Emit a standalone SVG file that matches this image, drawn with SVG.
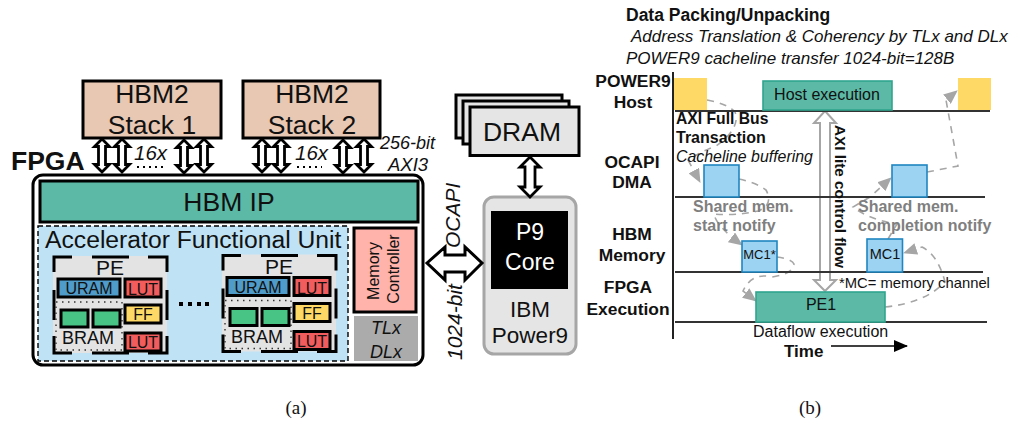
<svg xmlns="http://www.w3.org/2000/svg" width="1011" height="423" viewBox="0 0 1011 423">
<style>
text{font-family:"Liberation Sans",Arial,sans-serif;fill:#111}
.c{text-anchor:middle}
.b{font-weight:bold}
.i{font-style:italic}
.k{stroke:#000;stroke-width:3}
.hbm{fill:#e9c8b3}
.lg{font-size:26.500px}
.arr{fill:#fff;stroke:#000;stroke-width:2.800;stroke-linejoin:miter}
.pk{fill:none;stroke:#000;stroke-width:3}
.t16{font-size:16px}
.t17{font-size:17.400px}
.s17{font-size:17px}
.gray{fill:#7f7f7f;font-weight:bold;font-size:16px}
.dash{fill:none;stroke:#a6a6a6;stroke-width:1.600;stroke-dasharray:7 6;marker-end:url(#gh)}
.ax{stroke:#333;stroke-width:2;fill:none}
.blue{fill:#9cd2f2;stroke:#1f86c0;stroke-width:1.600}
.teal{fill:#5bb9a6;stroke:#2fa58f;stroke-width:1.600}
</style>
<defs>
<marker id="gh" viewBox="0 0 14 12" refX="13" refY="6" markerWidth="14" markerHeight="12" markerUnits="userSpaceOnUse" orient="auto"><path d="M0 0L14 6L0 12Z" fill="#a6a6a6"/></marker>
<marker id="kh" viewBox="0 0 14 12" refX="13" refY="6" markerWidth="14" markerHeight="12" markerUnits="userSpaceOnUse" orient="auto"><path d="M0 0L14 6L0 12Z" fill="#000"/></marker>
<path id="da" class="arr" d="M0 1L7.500 8.500H3.500V26.500H7.500L0 34L-7.500 26.500H-3.500V8.500H-7.500Z"/>
<g id="pe">
<rect x="53" y="256" width="114" height="97" fill="#e3e3e3"/>
<path class="pk" d="M54 272V257H72M92 257H129M148 257H167V272M54 290V320M167 290V320M54 336V353H72M92 353H129M148 353H167V336"/>
<rect x="56" y="302" width="66" height="48" fill="none" stroke="#333" stroke-width="1.400" stroke-dasharray="1.500 4.500"/>
<rect x="58" y="279" width="62" height="18" fill="#4f9bc9" class="k"/>
<text x="89" y="294" class="c" font-size="16">URAM</text>
<rect x="125" y="279" width="36" height="18" fill="#f25c5c" class="k"/>
<text x="143" y="295" class="c" font-size="16">LUT</text>
<rect x="61" y="310" width="27" height="17" fill="#48c585" class="k"/>
<rect x="93" y="310" width="27" height="17" fill="#48c585" class="k"/>
<text x="88" y="344" class="c" font-size="18">BRAM</text>
<rect x="125" y="305" width="36" height="18" fill="#ffd966" class="k"/>
<text x="143" y="320" class="c" font-size="16">FF</text>
<rect x="125" y="333" width="36" height="18" fill="#f25c5c" class="k"/>
<text x="143" y="348" class="c" font-size="16">LUT</text>
<text x="110" y="275" class="c" font-size="21">PE</text>
</g>
</defs>

<g id="hbm-stack-1"><rect x="83" y="81" width="138" height="57" class="hbm k"/><text x="152" y="103" class="c lg">HBM2</text><text x="152" y="134" class="c lg">Stack 1</text></g>
<g id="hbm-stack-2"><rect x="243" y="81" width="137" height="57" class="hbm k"/><text x="312" y="103" class="c lg">HBM2</text><text x="312" y="134" class="c lg">Stack 2</text></g>
<text id="fpga-label" x="11" y="170" class="b lg">FPGA</text>

<g id="fpga">
<rect x="33" y="175" width="390" height="190" rx="10" fill="#fff" class="k"/>
<g id="hbm-ip"><rect x="40" y="181" width="378" height="41" fill="#5bb9a6" class="k"/><text x="229" y="211" class="c lg">HBM IP</text></g>
<g id="afu"><rect x="38" y="226" width="310" height="135" fill="#bfe2f5" stroke="#000" stroke-width="1.400" stroke-dasharray="5 3"/><text x="45" y="248" font-size="24.700">Accelerator Functional Unit</text></g>
<g id="pe-1"><use href="#pe"/></g>
<g id="pe-2"><use href="#pe" transform="translate(169 -1.500)"/></g>
<g id="pe-dots" fill="#000"><rect x="179" y="302" width="4" height="4"/><rect x="188" y="302" width="4" height="4"/><rect x="197" y="302" width="4" height="4"/><rect x="205" y="302" width="4" height="4"/></g>
<g id="memory-controller"><rect x="354" y="228" width="62" height="84" fill="#ffb3ab" class="k"/><text transform="translate(379 271) rotate(-90)" class="c t16">Memory</text><text transform="translate(399 269) rotate(-90)" class="c t16">Controller</text></g>
<g id="tlx-dlx"><rect x="354" y="316" width="64" height="45" fill="#ababab"/><text x="386" y="334" class="c i" font-size="18">TLx</text><text x="386" y="358" class="c i" font-size="18">DLx</text></g>
</g>

<g id="dram"><rect x="456" y="95" width="106" height="43" fill="#e5e5e5" class="k"/><rect x="463" y="101" width="106" height="43" fill="#e5e5e5" class="k"/><rect x="470" y="107" width="109" height="48.500" fill="#e5e5e5" class="k"/><text x="522" y="141" class="c lg">DRAM</text></g>

<g id="power9"><rect x="484" y="197" width="92" height="157" rx="10" fill="#e5e5e5" stroke="#a6a6a6" stroke-width="3"/><rect x="491" y="211" width="77" height="78" fill="#000"/><text x="530" y="240" class="c" font-size="23" style="fill:#fff">P9</text><text x="530" y="270" class="c" font-size="23" style="fill:#fff">Core</text><text x="530" y="317" class="c" font-size="22.500">IBM</text><text x="530" y="343" class="c" font-size="22.500">Power9</text></g>

<g id="connectors">
<use href="#da" x="102" y="138"/><use href="#da" x="122" y="138"/><use href="#da" x="184" y="139"/><use href="#da" x="204" y="138"/>
<use href="#da" x="262" y="138"/><use href="#da" x="281" y="138"/><use href="#da" x="343" y="139"/><use href="#da" x="364" y="138"/>
<path class="arr" d="M530 157L540 167H535V187H540L530 197L520 187H525V167H520Z"/>
<path d="M427 263L445 247V255H465V247L482 263L465 280V272H445V280Z" fill="#fff" stroke="#000" stroke-width="3"/>
<path d="M825 111L836 123H830V280H836L825 291L814 280H820V123H814Z" fill="#fff" stroke="#a6a6a6" stroke-width="2"/>
<path class="dash" d="M707 100Q728 104 735 112Q741 128 716 146Q700 152 688 160L700 182"/>
<path class="dash" d="M739 179Q757 183 766 190Q774 205 758 211Q735 216 714 214Q716 226 742 245"/>
<path class="dash" d="M777 257Q792 259 794 264Q793 274 772 277Q752 272 743 291L756 301"/>
<path class="dash" d="M885 307Q925 303 945 282Q938 255 922 247L904 253"/>
<path class="dash" d="M888 239L897 224Q870 220 853 207L870 197L891 178"/>
<path class="dash" d="M927 172L958 166L946 100L957 91"/>
<path d="M831 346H907" stroke="#000" stroke-width="1.600" fill="none" marker-end="url(#kh)"/>
</g>

<g id="hbm-labels">
<text x="134" y="160" class="i" font-size="20.500">16x</text><text x="295" y="160" class="i" font-size="20.500">16x</text>
<path d="M137 167H163M297 167H322" stroke="#000" stroke-width="1.800" stroke-dasharray="2 4"/>
<text x="380" y="149" class="i" font-size="18">256-bit</text><text x="388" y="171" class="i" font-size="18.500">AXI3</text>
<text transform="translate(460 248) rotate(-90)" class="i" font-size="21">OCAPI</text>
<text transform="translate(462 360) rotate(-90)" class="i" font-size="21">1024-bit</text>
</g>

<g id="timeline">
<path d="M673 72V339" stroke="#222" stroke-width="2" fill="none"/>
<path class="ax" d="M675 111H990M675 197H985M675 272H983M675 322H987"/>
</g>
<g id="host-1"><rect x="674" y="78" width="33" height="32" fill="#ffd966"/></g>
<g id="host-2"><rect x="958" y="78" width="33" height="32" fill="#ffd966"/></g>
<g id="host-exec"><rect x="763" y="81" width="129" height="29" class="teal"/><text x="827" y="100" class="c t16">Host execution</text></g>
<g id="dma-1"><rect x="704" y="165" width="35" height="32" class="blue"/></g>
<g id="dma-2"><rect x="892" y="165" width="35" height="32" class="blue"/></g>
<g id="mc-1"><rect x="742" y="241" width="35" height="31" class="blue"/><text x="759.500" y="259" class="c" font-size="13">MC1*</text></g>
<g id="mc-2"><rect x="867" y="239" width="35.500" height="33" class="blue"/><text x="885" y="259" class="c" font-size="14.500">MC1</text></g>
<g id="pe1"><rect x="756" y="292" width="129" height="30" class="teal"/><text x="821" y="310" class="c t16">PE1</text></g>

<g id="right-labels">
<text x="626" y="21" class="b" font-size="17.500">Data Packing/Unpacking</text>
<text x="631" y="42" class="i s17">Address Translation &amp; Coherency by TLx and DLx</text>
<text x="626" y="64" class="i s17">POWER9 cacheline transfer 1024-bit=128B</text>
<text x="633" y="87" class="c b t17">POWER9</text><text x="633" y="108" class="c b t17">Host</text>
<text x="632" y="168" class="c b t17">OCAPI</text><text x="632" y="188" class="c b t17">DMA</text>
<text x="632" y="240" class="c b t17">HBM</text><text x="632" y="261" class="c b t17">Memory</text>
<text x="628" y="293" class="c b t17">FPGA</text><text x="628" y="315" class="c b t17">Execution</text>
<text x="676" y="124" class="b" font-size="15.700">AXI Full Bus</text>
<text x="676" y="143" class="b t16">Transaction</text>
<text x="676" y="162" class="i" font-size="15.900">Cacheline buffering</text>
<text x="693" y="212" class="gray">Shared mem.</text><text x="693" y="231" class="gray">start notify</text>
<text x="858" y="212" class="gray">Shared mem.</text><text x="858" y="231" class="gray">completion notify</text>
<text transform="translate(835 125) rotate(90)" class="b" font-size="15.300">AXI lite control flow</text>
<text x="839" y="288" font-size="14.800">*MC= memory channel</text>
<text x="753" y="337" class="t16">Dataflow execution</text>
<text x="784" y="357" class="b s17">Time</text>
</g>
<text x="296" y="414" class="c" font-size="19" style="font-family:'Liberation Serif',serif">(a)</text>
<text x="810" y="414" class="c" font-size="19" style="font-family:'Liberation Serif',serif">(b)</text>
</svg>
